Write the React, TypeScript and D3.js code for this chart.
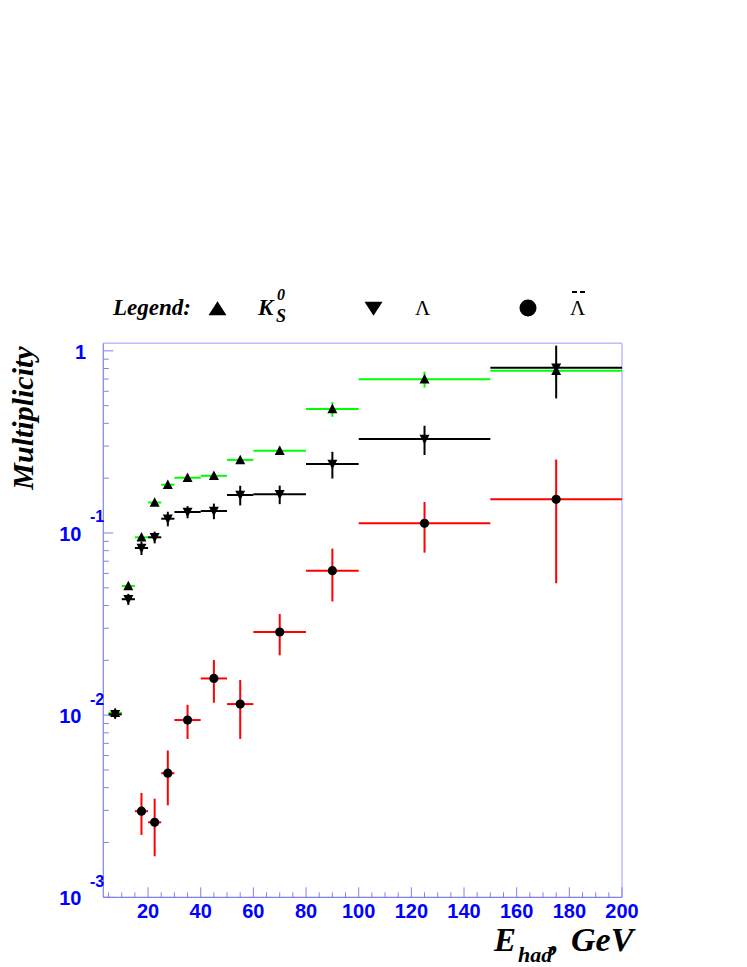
import * as d3 from 'd3'

// bins of hadronic energy, GeV
const binLo = [5, 10, 15, 20, 25, 30, 40, 50, 60, 80, 100, 150]
const binHi = [10, 15, 20, 25, 30, 40, 50, 60, 80, 100, 150, 200]

// K0s multiplicity
const k0Val = [0.0103, 0.0512, 0.0947, 0.147, 0.184, 0.201, 0.206, 0.252, 0.283, 0.479, 0.698, 0.778]
const k0Err = [0.0005, 0.002, 0.003, 0.004, 0.006, 0.006, 0.007, 0.01, 0.015, 0.045, 0.07, 0.08]

// Lambda multiplicity
const lamVal = [0.0101, 0.0433, 0.0827, 0.0947, 0.1198, 0.1304, 0.132, 0.1617, 0.163, 0.239, 0.328, 0.808]
const lamErr = [0.0005, 0.003, 0.007, 0.007, 0.011, 0.01, 0.013, 0.02, 0.019, 0.04, 0.06, 0.26]

// anti-Lambda multiplicity (none in the two lowest bins)
const alamVal = [null, null, 0.00297, 0.00258, 0.0048, 0.0094, 0.0159, 0.0115, 0.0286, 0.0621, 0.113, 0.153]
const alamErr = [null, null, 0.00077, 0.0009, 0.0016, 0.002, 0.0042, 0.0041, 0.0073, 0.02, 0.035, 0.1]

const W = 747
const H = 967
const frame = { left: 103.3, right: 622, top: 343.3, bottom: 897.3 }

const x = d3.scaleLinear().domain([3, 200]).range([frame.left, frame.right])
const y = d3.scaleLog().domain([1e-3, 1.1]).range([frame.bottom, frame.top])

const axisCol = '#8080f6'
const frameCol = '#bcbcff'
const labelCol = '#0000ff'
const sans = '"Liberation Sans", Arial, sans-serif'
const serif = '"Liberation Serif", "Times New Roman", serif'

const triUp = (cx: number, cy: number, w: number, h: number) =>
  `M${cx - w / 2},${cy + h * 0.45}L${cx + w / 2},${cy + h * 0.45}L${cx},${cy - h * 0.55}Z`
const triDown = (cx: number, cy: number, w: number, h: number) =>
  `M${cx - w / 2},${cy - h * 0.45}L${cx + w / 2},${cy - h * 0.45}L${cx},${cy + h * 0.55}Z`

type Pt = { lo: number; hi: number; v: number; e: number }
const toPts = (vals: (number | null)[], errs: (number | null)[]): Pt[] =>
  vals
    .map((v, i) => (v == null ? null : { lo: binLo[i], hi: binHi[i], v, e: errs[i] as number }))
    .filter((d): d is Pt => d != null)

function Series({ pts, color, marker }: { pts: Pt[]; color: string; marker: 'up' | 'down' | 'circle' }) {
  return (
    <g>
      {pts.map((d, i) => {
        const cx = x((d.lo + d.hi) / 2)
        const cy = y(d.v)
        return (
          <g key={i}>
            <line x1={x(d.lo)} x2={x(d.hi)} y1={cy} y2={cy} stroke={color} strokeWidth={2} />
            <line x1={cx} x2={cx} y1={y(Math.max(d.v - d.e, 1e-3))} y2={y(d.v + d.e)} stroke={color} strokeWidth={2} />
          </g>
        )
      })}
      {pts.map((d, i) => {
        const cx = x((d.lo + d.hi) / 2)
        const cy = y(d.v)
        if (marker === 'circle') return <circle key={'m' + i} cx={cx} cy={cy} r={4.6} fill="#000" />
        return <path key={'m' + i} d={marker === 'up' ? triUp(cx, cy, 10, 9.5) : triDown(cx, cy, 10, 9.5)} fill="#000" />
      })}
    </g>
  )
}

export default function App() {
  const xMajor = x.ticks(10)
  const xMinor = x.ticks(40).filter((t) => t % 20 !== 0)
  const yAll = y.ticks()
  const isDecade = (t: number) => Math.abs(Math.log10(t) - Math.round(Math.log10(t))) < 1e-6
  const yMajor = yAll.filter(isDecade)
  const yMinor = yAll.filter((t) => !isDecade(t))

  return (
    <svg width={W} height={H} style={{ position: 'absolute', left: 0, top: 0, background: '#fff' }}>
      {/* frame */}
      <line x1={frame.left} x2={frame.right} y1={frame.top} y2={frame.top} stroke={frameCol} strokeWidth={1.5} />
      <line x1={frame.right} x2={frame.right} y1={frame.top} y2={frame.bottom} stroke={frameCol} strokeWidth={1.5} />
      <line x1={frame.left} x2={frame.left} y1={frame.top} y2={frame.bottom} stroke={axisCol} strokeWidth={1.2} />
      <line x1={frame.left} x2={frame.right} y1={frame.bottom} y2={frame.bottom} stroke={axisCol} strokeWidth={1.2} />

      {/* x ticks */}
      {xMinor.map((t) => (
        <line key={'xm' + t} x1={x(t)} x2={x(t)} y1={frame.bottom} y2={frame.bottom - 5} stroke={axisCol} strokeWidth={1} />
      ))}
      {xMajor.map((t) => (
        <g key={'xM' + t}>
          <line x1={x(t)} x2={x(t)} y1={frame.bottom} y2={frame.bottom - 10} stroke={axisCol} strokeWidth={1} />
          <text x={x(t)} y={918} textAnchor="middle" fontFamily={sans} fontWeight="bold" fontSize={20} fill={labelCol}>
            {t}
          </text>
        </g>
      ))}

      {/* y ticks */}
      {yMinor.map((t) => (
        <line key={'ym' + t} x1={frame.left} x2={frame.left + 5.5} y1={y(t)} y2={y(t)} stroke={axisCol} strokeWidth={1} />
      ))}
      {yMajor.map((t) => {
        const e = Math.round(Math.log10(t))
        const ty = y(t)
        return (
          <g key={'yM' + t}>
            <line x1={frame.left} x2={frame.left + 10} y1={ty} y2={ty} stroke={axisCol} strokeWidth={1} />
            {e === 0 ? (
              <text x={86} y={ty + 8} textAnchor="end" fontFamily={sans} fontWeight="bold" fontSize={20} fill={labelCol}>
                1
              </text>
            ) : (
              <g fontFamily={sans} fontWeight="bold" fill={labelCol}>
                <text x={81.5} y={ty + 8} textAnchor="end" fontSize={20}>
                  10
                </text>
                <text x={90} y={ty - 10.5} fontSize={16}>
                  {e}
                </text>
              </g>
            )}
          </g>
        )
      })}

      {/* data */}
      <Series pts={toPts(k0Val, k0Err)} color="#00ff00" marker="up" />
      <Series pts={toPts(lamVal, lamErr)} color="#000" marker="down" />
      <Series pts={toPts(alamVal, alamErr)} color="#ff0000" marker="circle" />

      {/* axis titles */}
      <text transform="translate(33,418) rotate(-90)" textAnchor="middle" fontFamily={serif} fontStyle="italic" fontWeight="bold" fontSize={30}>
        Multiplicity
      </text>
      <g fontFamily={serif} fontStyle="italic" fontWeight="bold">
        <text x={494} y={951} fontSize={33}>E</text>
        <text x={518} y={962} fontSize={22}>had</text>
        <text x={551} y={951} fontSize={32}>,</text>
        <text x={571} y={951} fontSize={34}>GeV</text>
      </g>

      {/* legend */}
      <text x={113} y={315} fontFamily={serif} fontStyle="italic" fontWeight="bold" fontSize={23}>
        Legend:
      </text>
      <path d={triUp(217.5, 309, 18, 14)} fill="#000" />
      <g fontFamily={serif} fontStyle="italic" fontWeight="bold">
        <text x={258} y={315} fontSize={23}>K</text>
        <text x={277} y={300} fontSize={16}>0</text>
        <text x={276} y={322} fontSize={18}>S</text>
      </g>
      <path d={triDown(373.5, 308, 18, 14)} fill="#000" />
      <text x={415} y={315} fontFamily={serif} fontSize={21}>Λ</text>
      <circle cx={528} cy={308} r={8.5} fill="#000" />
      <text x={570} y={315} fontFamily={serif} fontSize={21}>Λ</text>
      <line x1={572} x2={577} y1={292} y2={292} stroke="#000" strokeWidth={2} />
      <line x1={580} x2={585} y1={292} y2={292} stroke="#000" strokeWidth={2} />
    </svg>
  )
}
